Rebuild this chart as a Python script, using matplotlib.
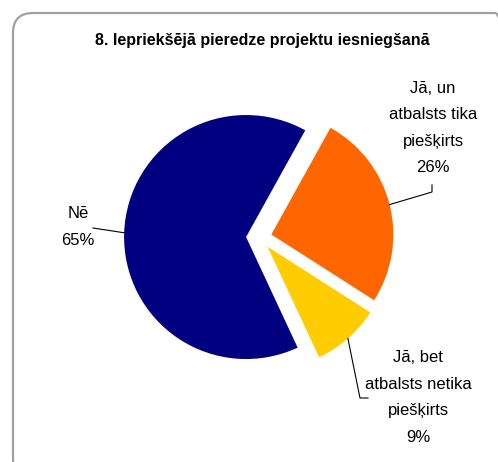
import numpy as np
import matplotlib
matplotlib.use("Agg")
import matplotlib.pyplot as plt
from matplotlib.patches import FancyBboxPatch

# ---- data ----
categories = ["Nē", "Jā, un\natbalsts tika\npiešķirts", "Jā, bet\natbalsts netika\npiešķirts"]
values = [65, 26, 9]
explode_frac = [0.11, 0.1, 0.1]
colors = ["#000080", "#FF6600", "#FFCC00"]
title = "8. Iepriekšējā pieredze projektu iesniegšanā"

W, H = 498, 462
fig = plt.figure(figsize=(W / 100, H / 100), dpi=100)
ax = fig.add_axes([0, 0, 1, 1])

def py(y):
    return H - y

plt.rcParams['font.family'] = ['Liberation Sans', 'DejaVu Sans']

cx, cy, R = 259.5, py(237.5), 122
wedges, _ = ax.pie(values, colors=colors, startangle=295, counterclock=False,
                   explode=[e * R for e in explode_frac], radius=R, center=(cx, cy),
                   wedgeprops=dict(linewidth=0))
ax.set_xlim(0, W)
ax.set_ylim(0, H)
ax.set_aspect('auto')
ax.axis('off')

# border
border = FancyBboxPatch((13, py(478)), 502, 465,
                        boxstyle="round,pad=0,rounding_size=20",
                        facecolor='none', edgecolor='#a0a0a0', linewidth=1.6,
                        transform=ax.transData)
ax.add_patch(border)

ax.text(262, py(40), title, ha='center', va='center', fontsize=11.5,
        fontweight='bold', color='black')

labels = [f"{c}\n{v}%" for c, v in zip(categories, values)]
# label anchor (px), elbow points (px)
label_pos = [(78, 227), (433, 128), (418, 397.5)]
elbows = [[(93, 228)], [(432, 192), (432, 185)], [(360, 398), (368, 398)]]

for w, lab, (tx, ty), elb in zip(wedges, labels, label_pos, elbows):
    th = np.deg2rad((w.theta1 + w.theta2) / 2)
    ex = w.center[0] + w.r * np.cos(th)
    ey = w.center[1] + w.r * np.sin(th)
    xs = [ex] + [p[0] for p in elb]
    ys = [ey] + [py(p[1]) for p in elb]
    ax.plot(xs, ys, color='black', lw=0.8)
    ax.text(tx, py(ty), lab, ha='center', va='center', multialignment='center',
            fontsize=12, linespacing=1.97, color='black')

fig.savefig("out.png", dpi=100)
